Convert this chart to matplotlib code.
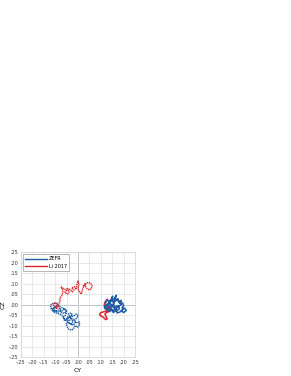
import numpy as np
import matplotlib
matplotlib.use("Agg")
import matplotlib.pyplot as plt
import matplotlib.ticker as ticker
from matplotlib.lines import Line2D

# Style
matplotlib.rcParams.update({
    "font.family": "DejaVu Sans",
    "font.size": 3.5,
})

BLUE = "#1f5ca6"
RED = "#d9262b"

TICKS = [-0.25, -0.20, -0.15, -0.10, -0.05, 0.0, 0.05, 0.10, 0.15, 0.20, 0.25]
LEGEND_LABELS = ["ZEFR", "Li 2017"]

# ZEFR, dotted trace (left cluster)
zefr_a_x = [-0.09, -0.105, -0.118, -0.12, -0.112, -0.098, -0.085, -0.078, -0.088, -0.1,
            -0.108, -0.1, -0.085, -0.07, -0.058, -0.05, -0.06, -0.072, -0.08, -0.07,
            -0.058, -0.05, -0.055, -0.065, -0.06, -0.048, -0.035, -0.025, -0.03, -0.042,
            -0.035, -0.02, -0.008, 0.0, -0.006, -0.015, -0.008, 0.005, 0.008, -0.002,
            -0.012, -0.02, -0.028, -0.04, -0.048, -0.052, -0.042, -0.03, -0.022, -0.03,
            -0.04, -0.05, -0.045, -0.032, -0.018, -0.012, -0.02, -0.035, -0.05, -0.062,
            -0.07, -0.082, -0.095, -0.108, -0.112, -0.1, -0.09]
zefr_a_y = [0.005, 0.008, 0.0, -0.015, -0.028, -0.032, -0.025, -0.012, -0.002, -0.008,
            -0.02, -0.03, -0.035, -0.03, -0.02, -0.03, -0.042, -0.038, -0.025, -0.015,
            -0.02, -0.035, -0.05, -0.06, -0.075, -0.07, -0.058, -0.05, -0.04, -0.045,
            -0.06, -0.055, -0.045, -0.052, -0.065, -0.075, -0.088, -0.082, -0.095, -0.108,
            -0.1, -0.115, -0.122, -0.118, -0.105, -0.092, -0.085, -0.095, -0.08, -0.068,
            -0.078, -0.07, -0.058, -0.065, -0.07, -0.085, -0.098, -0.09, -0.08, -0.062,
            -0.05, -0.045, -0.04, -0.035, -0.02, -0.012, -0.018]

# ZEFR, solid trace (right cluster)
zefr_b_x = [0.12, 0.13, 0.138, 0.132, 0.145, 0.152, 0.148, 0.16, 0.168, 0.162,
            0.175, 0.18, 0.19, 0.183, 0.195, 0.2, 0.193, 0.205, 0.212, 0.2,
            0.19, 0.198, 0.185, 0.172, 0.168, 0.155, 0.148, 0.138, 0.128, 0.122,
            0.132, 0.142, 0.155, 0.162, 0.175, 0.182, 0.172, 0.16, 0.15, 0.14,
            0.125, 0.115, 0.118, 0.13, 0.142, 0.152, 0.165, 0.178, 0.19, 0.182,
            0.17, 0.158, 0.145, 0.135, 0.148, 0.158, 0.15, 0.14]
zefr_b_y = [0.008, 0.022, 0.012, 0.0, 0.025, 0.04, 0.018, 0.03, 0.045, 0.02,
            0.028, 0.01, 0.02, 0.005, 0.008, -0.005, -0.015, -0.018, -0.028, -0.038,
            -0.03, -0.022, -0.035, -0.04, -0.028, -0.038, -0.025, -0.033, -0.022, -0.01,
            -0.002, -0.012, 0.002, -0.012, -0.005, -0.02, -0.028, -0.018, -0.008, 0.008,
            0.0, -0.008, -0.02, -0.025, -0.015, -0.03, -0.02, -0.01, 0.0, 0.015,
            0.022, 0.012, 0.018, 0.008, -0.005, 0.005, 0.025, 0.015]

# Li 2017, dotted trace (upper left)
li_a_x = [-0.098, -0.108, -0.102, -0.09, -0.095, -0.085, -0.082, -0.078, -0.08, -0.072,
          -0.068, -0.065, -0.075, -0.062, -0.05, -0.058, -0.045, -0.038, -0.05, -0.035,
          -0.025, -0.018, -0.028, -0.015, -0.008, -0.005, 0.0, 0.004, 0.0, 0.008,
          0.015, 0.018, 0.022, 0.03, 0.042, 0.055, 0.062, 0.058, 0.048, 0.038,
          0.03, 0.032, 0.022]
li_a_y = [-0.012, -0.002, 0.008, 0.002, -0.018, -0.008, 0.01, 0.02, 0.032, 0.04,
          0.052, 0.065, 0.085, 0.075, 0.068, 0.058, 0.05, 0.062, 0.078, 0.072,
          0.06, 0.07, 0.08, 0.085, 0.072, 0.095, 0.112, 0.098, 0.075, 0.058,
          0.05, 0.065, 0.08, 0.095, 0.105, 0.102, 0.09, 0.075, 0.07, 0.078,
          0.09, 0.1, 0.088]

# Li 2017, solid trace (lower right)
li_b_x = [0.128, 0.12, 0.115, 0.125, 0.135, 0.145, 0.138, 0.125, 0.112, 0.1,
          0.095, 0.1, 0.108, 0.115, 0.122, 0.128, 0.122, 0.118, 0.125, 0.138,
          0.15, 0.142, 0.13]
li_b_y = [0.025, 0.015, 0.0, -0.01, -0.018, -0.015, -0.025, -0.03, -0.035, -0.038,
          -0.048, -0.055, -0.058, -0.065, -0.072, -0.068, -0.055, -0.045, -0.038, -0.032,
          -0.025, -0.02, -0.008]


def fmt(v, _):
    s = f"{v:.2f}"
    return s.replace("0.", ".", 1)


fig = plt.figure(figsize=(2.91, 3.76), dpi=100)
ax = fig.add_axes([0.072, 0.0505, 0.392, 0.279])

dots = (0, (1, 0.5))
ax.plot(zefr_a_x, zefr_a_y, color=BLUE, lw=1.0, ls=dots)
ax.plot(li_a_x, li_a_y, color=RED, lw=1.0, ls=dots)
ax.plot(li_b_x, li_b_y, color=RED, lw=1.1)
ax.plot(zefr_b_x, zefr_b_y, color=BLUE, lw=1.1)

ax.axhline(0, color="#8c8c8c", lw=0.7, zorder=0.5)
ax.axvline(0, color="#8c8c8c", lw=0.7, zorder=0.5)

ax.set_xlim(-0.25, 0.25)
ax.set_ylim(-0.25, 0.25)
ax.set_xticks(TICKS)
ax.set_yticks(TICKS)
ax.xaxis.set_major_formatter(ticker.FuncFormatter(fmt))
ax.yaxis.set_major_formatter(ticker.FuncFormatter(fmt))
ax.tick_params(length=0, pad=2, labelcolor="#333333")
ax.grid(True, color="#dedede", lw=0.5)
ax.set_axisbelow(True)
for sp in ax.spines.values():
    sp.set_color("#d0d0d0")
    sp.set_linewidth(0.5)

ax.set_xlabel("CY", fontsize=4.5, labelpad=2)
ax.set_ylabel("CZ", fontsize=4.5, labelpad=2)

handles = [Line2D([0], [0], color=BLUE, lw=1.0),
           Line2D([0], [0], color=RED, lw=1.0)]
leg = ax.legend(handles, LEGEND_LABELS, loc="upper left", fontsize=3.5,
                fancybox=False, framealpha=1, edgecolor="#999999",
                handlelength=4.5, borderpad=0.45, labelspacing=0.5,
                handletextpad=0.4, borderaxespad=0.4)
leg.get_frame().set_linewidth(0.5)

fig.savefig("out.png", dpi=100)
